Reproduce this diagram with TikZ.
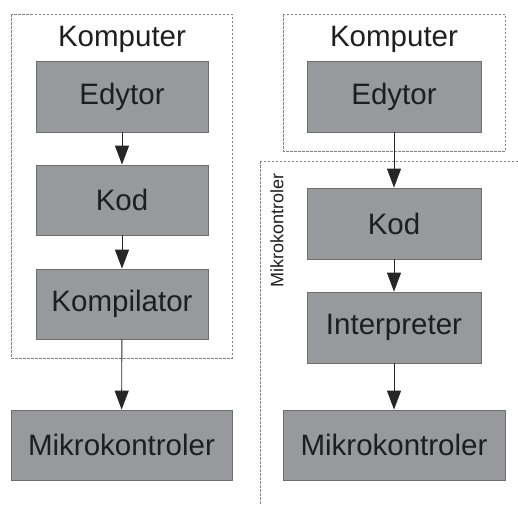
\documentclass[tikz,border=0pt]{standalone}
\usepackage{fontspec}
\setmainfont{Liberation Sans}
\usetikzlibrary{arrows.meta}
\definecolor{boxfill}{RGB}{152,153,157}
\definecolor{boxline}{RGB}{110,110,112}
\definecolor{txt}{RGB}{30,30,30}
\definecolor{frameline}{RGB}{130,130,130}
\tikzset{
  blk/.style={draw=boxline, line width=0.8pt, fill=boxfill, inner sep=0pt, text=txt,
    font=\fontsize{29.5}{34}\selectfont},
  lbl/.style={inner sep=0pt, text=txt, font=\fontsize{29.5}{34}\selectfont},
  frame/.style={draw=frameline, line width=0.7pt, dash pattern=on 2.5pt off 1.5pt},
  conn/.style={draw=black!85, line width=0.9pt, -{Triangle[width=14pt,length=19pt]}},
}
\begin{document}
\begin{tikzpicture}[x=1pt,y=-1pt]
\useasboundingbox (0,0) rectangle (518,504);
\clip (0,0) rectangle (518,504);
% frames
\draw[frame] (11,14) rectangle (232,358);
\draw[frame] (283,14) rectangle (505,151);
\draw[frame] (260,161) rectangle (540,520);
% left column
\node[lbl] (komL) at (122,39) {Komputer};
\node[blk, minimum width=172pt, minimum height=71pt] (edL) at (122,96.5) {Edytor};
\node[blk, minimum width=172pt, minimum height=70pt] (kodL) at (122,200) {Kod};
\node[blk, minimum width=172pt, minimum height=70pt] (kompL) at (122,304) {Kompilator};
\node[blk, minimum width=221pt, minimum height=70pt] (mikL) at (121.5,445) {Mikrokontroler};
% right column
\node[lbl] (komR) at (394,39) {Komputer};
\node[blk, minimum width=174pt, minimum height=71pt] (edR) at (394,96.5) {Edytor};
\node[blk, minimum width=174pt, minimum height=71pt] (kodR) at (394,223.5) {Kod};
\node[blk, minimum width=174pt, minimum height=71pt] (intR) at (394,327.5) {Interpreter};
\node[blk, minimum width=222pt, minimum height=70pt] (mikR) at (394,445) {Mikrokontroler};
\node[inner sep=0pt, text=txt, font=\fontsize{18}{20}\selectfont, rotate=90] (mikLbl) at (277,230.5) {Mikrokontroler};
% connectors
\draw[conn] (edL) -- (kodL);
\draw[conn] (kodL) -- (kompL);
\draw[conn] (kompL) -- (mikL);
\draw[conn] (edR) -- (kodR);
\draw[conn] (kodR) -- (intR);
\draw[conn] (intR) -- (mikR);
\end{tikzpicture}
\end{document}
